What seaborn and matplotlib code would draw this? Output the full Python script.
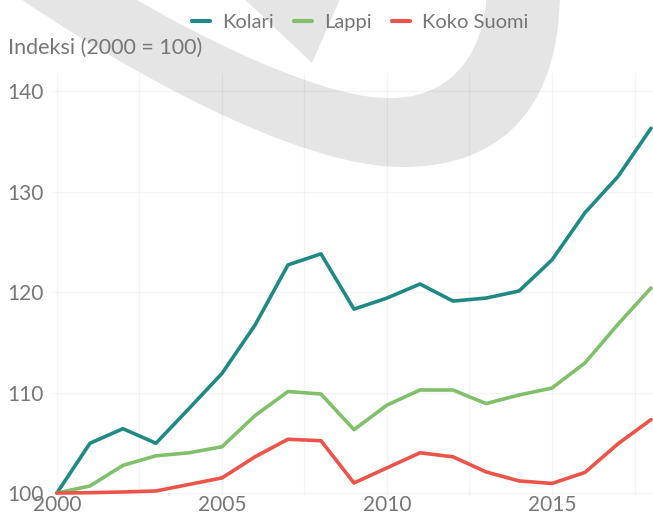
import numpy as np
import pandas as pd
import seaborn as sns
import matplotlib.pyplot as plt
from matplotlib.path import Path
from matplotlib.patches import PathPatch, Polygon

years = list(range(2000, 2019))
kolari = [100, 104.95, 106.4, 104.95, 108.4, 111.9, 116.7, 122.7, 123.8, 118.3,
          119.4, 120.8, 119.1, 119.4, 120.1, 123.2, 127.9, 131.5, 136.3]
lappi = [100, 100.7, 102.75, 103.7, 104.0, 104.6, 107.7, 110.1, 109.85, 106.3,
         108.75, 110.25, 110.25, 108.9, 109.75, 110.45, 112.95, 116.8, 120.4]
koko_suomi = [100, 100.03, 100.1, 100.2, 100.85, 101.5, 103.6, 105.35, 105.2, 101.0,
              102.5, 104.0, 103.6, 102.1, 101.2, 100.95, 102.05, 104.9, 107.3]
series = ["Kolari", "Lappi", "Koko Suomi"]
colors = {"Kolari": "#1f8a84", "Lappi": "#80c06b", "Koko Suomi": "#ec5349"}

W, H = 653, 518
sns.set_theme(style="whitegrid")
plt.rcParams["font.family"] = ["Lato", "DejaVu Sans"]
txt = "#767676"

dat = pd.DataFrame({"year": years, "Kolari": kolari, "Lappi": lappi, "Koko Suomi": koko_suomi})
long = dat.melt(id_vars="year", var_name="alue", value_name="indeksi")

fig = plt.figure(figsize=(W / 100, H / 100), dpi=100, facecolor="white")


def px(x, y):
    return (x / W, 1 - y / H)


# grey logo watermark behind the chart
verts = [px(0, -15), px(130, 75), px(300, 167), px(402, 167),
         px(500, 167), px(560, 110), px(560, -10),
         px(487, -10),
         px(485, 60), px(445, 100), px(387, 98),
         px(330, 98), px(220, 50), px(120, -10),
         px(0, -15)]
codes = [Path.MOVETO, Path.CURVE4, Path.CURVE4, Path.CURVE4,
         Path.CURVE4, Path.CURVE4, Path.CURVE4,
         Path.LINETO,
         Path.CURVE4, Path.CURVE4, Path.CURVE4,
         Path.CURVE4, Path.CURVE4, Path.CURVE4,
         Path.CLOSEPOLY]
fig.add_artist(PathPatch(Path(verts, codes), transform=fig.transFigure,
                         facecolor="#e5e5e5", edgecolor="none", zorder=-1))
fig.add_artist(Polygon([px(235, -10), px(312, 63), px(344, -10)], closed=True,
                       transform=fig.transFigure, facecolor="#e5e5e5",
                       edgecolor="none", zorder=-1))

ax = fig.add_axes([52 / W, 1 - 495 / H, 601 / W, 422 / H])
ax.set_facecolor("none")
sns.lineplot(data=long, x="year", y="indeksi", hue="alue", hue_order=series,
             palette=colors, linewidth=2.6, ax=ax, legend=False)

ax.set_xlim(1999.85, 2018.06)
ax.set_ylim(99.8, 141.8)
ax.set_xticks([2000, 2005, 2010, 2015])
ax.set_xticks(np.arange(2002.5, 2018, 5), minor=True)
ax.set_yticks([100, 110, 120, 130, 140])
ax.grid(True, which="both", color="black", alpha=0.045, linewidth=1.0)
for s in ax.spines.values():
    s.set_visible(False)
ax.tick_params(axis="both", which="both", length=0, labelsize=15, labelcolor=txt)
ax.tick_params(axis="x", pad=0)
ax.tick_params(axis="y", pad=6)
ax.set_xlabel("")
ax.set_ylabel("")

fig.text(8 / W, 1 - 48 / H, "Indeksi (2000 = 100)", ha="left", va="center",
         fontsize=15.5, color=txt)

handles = [plt.Line2D([], [], color=colors[s], linewidth=3) for s in series]
leg = fig.legend(handles, series, loc="center", bbox_to_anchor=(360 / W, 1 - 22 / H),
                 ncol=3, frameon=False, handlelength=0.9, handletextpad=0.6,
                 columnspacing=1.0, fontsize=14.5)
for t in leg.get_texts():
    t.set_color(txt)

fig.savefig("out.png", dpi=100)
